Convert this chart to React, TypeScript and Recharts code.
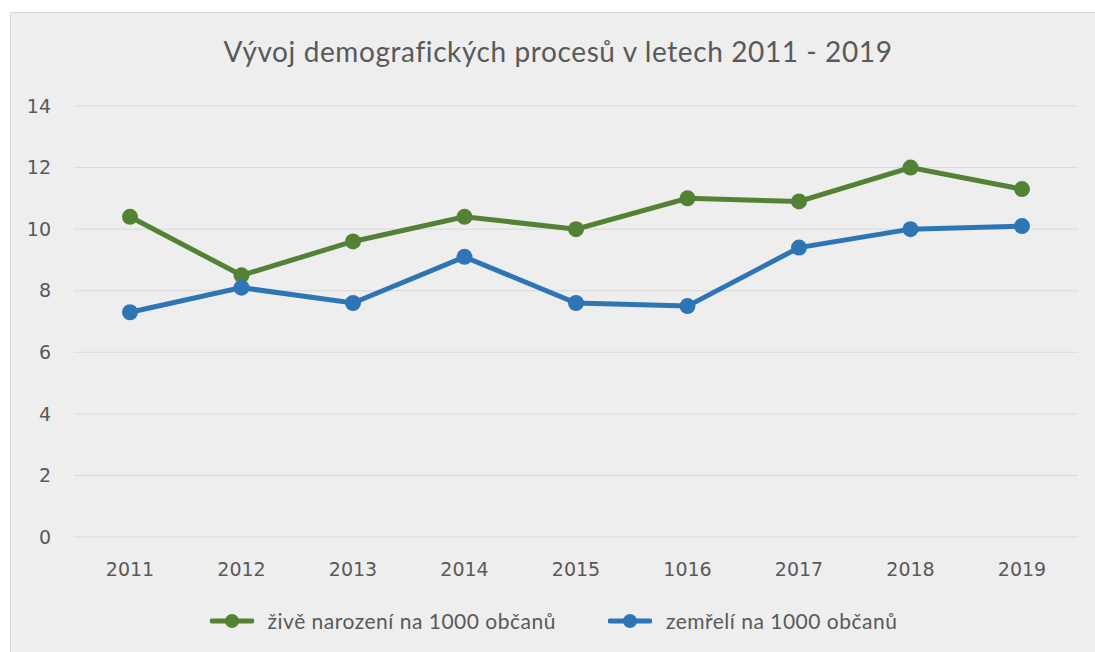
import React from "react";
import { LineChart, Line, XAxis, YAxis, CartesianGrid, Legend } from "recharts";

const categories = ["2011", "2012", "2013", "2014", "2015", "1016", "2017", "2018", "2019"];
const births = [10.4, 8.5, 9.6, 10.4, 10.0, 11.0, 10.9, 12.0, 11.3];
const deaths = [7.3, 8.1, 7.6, 9.1, 7.6, 7.5, 9.4, 10.0, 10.1];
const yTicks = [0, 2, 4, 6, 8, 10, 12, 14];
const seriesNames = ["živě narození na 1000 občanů", "zemřelí na 1000 občanů"];
const title = "Vývoj demografických procesů v letech 2011 - 2019";

const GREEN = "#548235";
const BLUE = "#2E75B6";
const TEXT = "#595959";

const data = categories.map((c, i) => ({ year: c, births: births[i], deaths: deaths[i] }));

const LegendContent = () => {
  const items = [
    { name: seriesNames[0], color: GREEN },
    { name: seriesNames[1], color: BLUE },
  ];
  return (
    <div style={{ display: "flex", justifyContent: "center", alignItems: "center", gap: 52, paddingLeft: 18 }}>
      {items.map((it) => (
        <div key={it.name} style={{ display: "flex", alignItems: "center" }}>
          <svg width={44} height={16} style={{ marginRight: 14 }}>
            <line x1={2} y1={8} x2={42} y2={8} stroke={it.color} strokeWidth={5} strokeLinecap="round" />
            <circle cx={22} cy={8} r={7} fill={it.color} />
          </svg>
          <span
            style={{
              fontFamily: "Lato, 'Open Sans', sans-serif",
              fontSize: 21,
              letterSpacing: 0.5,
              color: TEXT,
            }}
          >
            {it.name}
          </span>
        </div>
      ))}
    </div>
  );
};

export default function App() {
  return (
    <div
      style={{
        position: "absolute",
        left: 10,
        top: 12,
        width: 1090,
        height: 645,
        background: "#eeeeee",
        borderTop: "1px solid #d9d9d9",
        borderLeft: "1px solid #d9d9d9",
        boxSizing: "border-box",
      }}
    >
      <div
        style={{
          position: "absolute",
          top: 21,
          left: 0,
          width: 1094,
          textAlign: "center",
          fontFamily: "Lato, 'Open Sans', sans-serif",
          fontSize: 28,
          letterSpacing: 0.6,
          color: TEXT,
        }}
      >
        {title}
      </div>
      <LineChart width={1085} height={640} data={data} margin={{ top: 93, right: 18, left: 0, bottom: 5 }}>
        <CartesianGrid vertical={false} stroke="#d9d9d9" strokeWidth={1} />
        <XAxis
          dataKey="year"
          axisLine={false}
          tickLine={false}
          tickMargin={20}
          height={71}
          padding={{ left: 56, right: 56 }}
          tick={{ fill: TEXT, fontSize: 19, fontFamily: "'DejaVu Sans', sans-serif" }}
          interval={0}
        />
        <YAxis
          domain={[0, 14]}
          ticks={yTicks}
          axisLine={false}
          tickLine={false}
          width={63}
          tickMargin={17}
          tick={{ fill: TEXT, fontSize: 19, fontFamily: "'DejaVu Sans', sans-serif" }}
        />
        <Legend verticalAlign="bottom" content={<LegendContent />} wrapperStyle={{ height: 40 }} />
        <Line
          dataKey="births"
          name={seriesNames[0]}
          stroke={GREEN}
          strokeWidth={5}
          dot={{ r: 8, fill: GREEN, stroke: GREEN, strokeWidth: 0 }}
          activeDot={false}
          isAnimationActive={false}
        />
        <Line
          dataKey="deaths"
          name={seriesNames[1]}
          stroke={BLUE}
          strokeWidth={5}
          dot={{ r: 8, fill: BLUE, stroke: BLUE, strokeWidth: 0 }}
          activeDot={false}
          isAnimationActive={false}
        />
      </LineChart>
    </div>
  );
}
